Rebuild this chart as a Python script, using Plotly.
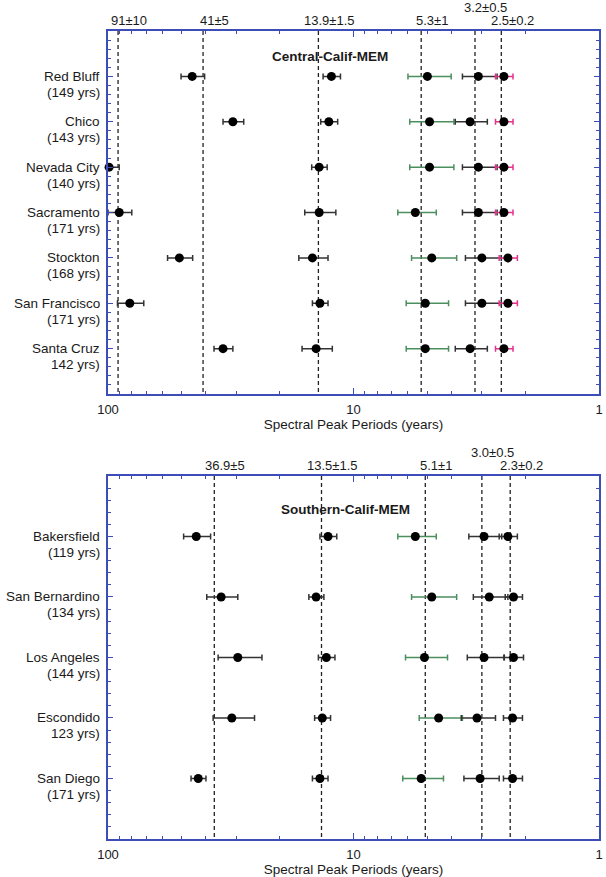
import numpy as np
import plotly.graph_objects as go

# ---- Central California stations -------------------------------------------
central_stations = ["Red Bluff", "Chico", "Nevada City", "Sacramento",
                    "Stockton", "San Francisco", "Santa Cruz"]
central_years = ["(149 yrs)", "(143 yrs)", "(140 yrs)", "(171 yrs)",
                 "(168 yrs)", "(171 yrs)", "142 yrs)"]

# spectral peak periods (years) and their errors, one list per band
c_p1 = [45.4, 31.0, 99.0, 90.0, 51.2, 81.5, 34.0]
c_e1 = [5.0, 3.0, 9.0, 10.0, 6.0, 10.0, 3.0]
c_p2 = [12.3, 12.6, 13.8, 13.8, 14.7, 13.7, 14.2]
c_e2 = [1.0, 1.0, 1.0, 2.0, 2.0, 1.0, 2.0]
c_p3 = [5.0, 4.9, 4.9, 5.6, 4.8, 5.1, 5.1]
c_e3 = [1.0, 1.0, 1.0, 1.0, 1.0, 1.0, 1.0]
c_p4 = [3.1, 3.35, 3.1, 3.1, 3.0, 3.0, 3.35]
c_e4 = [0.5, 0.5, 0.5, 0.5, 0.5, 0.5, 0.5]
c_p5 = [2.44, 2.44, 2.44, 2.44, 2.35, 2.35, 2.44]
c_e5 = [0.2, 0.2, 0.2, 0.2, 0.2, 0.2, 0.2]

central_bands = [91, 41, 13.9, 5.3, 3.2, 2.5]
central_band_labels = ["91±10", "41±5", "13.9±1.5", "5.3±1", "3.2±0.5", "2.5±0.2"]

# ---- Southern California stations ------------------------------------------
southern_stations = ["Bakersfield", "San Bernardino", "Los Angeles",
                     "Escondido", "San Diego"]
southern_years = ["(119 yrs)", "(134 yrs)", "(144 yrs)", "123 yrs)", "(171 yrs)"]

s_p1 = [43.7, 34.6, 29.6, 31.3, 42.9]
s_e1 = [5.5, 5.0, 6.0, 6.0, 3.0]
s_p2 = [12.7, 14.2, 12.9, 13.4, 13.7]
s_e2 = [1.0, 1.0, 1.0, 1.0, 1.0]
s_p3 = [5.6, 4.8, 5.14, 4.5, 5.3]
s_e3 = [1.0, 1.0, 1.0, 0.9, 1.0]
s_p4 = [2.94, 2.8, 2.94, 3.14, 3.05]
s_e4 = [0.45, 0.45, 0.5, 0.5, 0.5]
s_p5 = [2.35, 2.23, 2.23, 2.25, 2.25]
s_e5 = [0.2, 0.18, 0.2, 0.2, 0.2]

southern_bands = [36.9, 13.5, 5.1, 3.0, 2.3]
southern_band_labels = ["36.9±5", "13.5±1.5", "5.1±1", "3.0±0.5", "2.3±0.2"]

x_tick_vals = [100, 10, 1]
x_tick_text = ["100", "10", "1"]

# ---- styling ----------------------------------------------------------------
FONT = "Liberation Sans, Arial, Helvetica, sans-serif"
TEXT = "#1a1a1a"
AXIS_BLUE = "#3d4db8"
BAR_DARK = "#333333"
BAR_GREEN = "#4b8f5e"
BAR_PINK = "#e6318d"
X_MAX = 100.0

fig = go.Figure()


def add_panel(xa, ya, stations, years, peaks, errs, colors, bands, labels, raised):
    n = len(stations)
    rows = list(range(1, n + 1))
    yref = ya
    # dashed reference periods
    for v in bands:
        fig.add_trace(go.Scatter(
            x=[v, v], y=[0, n + 1], mode="lines",
            line=dict(color="#222222", width=1.3, dash="4px,3px"),
            xaxis=xa, yaxis=ya, hoverinfo="skip", showlegend=False))
    # peaks with horizontal error bars
    for p, e, c in zip(peaks, errs, colors):
        plus = [min(ei, X_MAX - pi) for pi, ei in zip(p, e)]
        fig.add_trace(go.Scatter(
            x=p, y=rows, mode="markers",
            marker=dict(color="black", size=9),
            error_x=dict(type="data", symmetric=False, array=plus, arrayminus=e,
                         color=c, thickness=1.5, width=3),
            cliponaxis=False, xaxis=xa, yaxis=ya, showlegend=False))
    # band labels above the frame
    for v, lab in zip(bands, labels):
        fig.add_annotation(
            x=np.log10(v), xref=xa, y=1, yref=f"{yref} domain",
            text=lab, showarrow=False, xanchor="center", yanchor="bottom",
            xshift=11, yshift=14 if lab in raised else 1,
            font=dict(family=FONT, size=13, color=TEXT))
    # station labels
    for r, name, yrs in zip(rows, stations, years):
        fig.add_annotation(x=0, xref="paper", y=r, yref=yref, text=name,
                           showarrow=False, xanchor="right", yanchor="middle",
                           xshift=-6, font=dict(family=FONT, size=13.5, color=TEXT))
        fig.add_annotation(x=0, xref="paper", y=r, yref=yref, text=yrs,
                           showarrow=False, xanchor="right", yanchor="middle",
                           xshift=-6, yshift=-16,
                           font=dict(family=FONT, size=13.5, color=TEXT))


add_panel("x", "y", central_stations, central_years,
          [c_p1, c_p2, c_p3, c_p4, c_p5], [c_e1, c_e2, c_e3, c_e4, c_e5],
          [BAR_DARK, BAR_DARK, BAR_GREEN, BAR_DARK, BAR_PINK],
          central_bands, central_band_labels, {"3.2±0.5"})
add_panel("x2", "y2", southern_stations, southern_years,
          [s_p1, s_p2, s_p3, s_p4, s_p5], [s_e1, s_e2, s_e3, s_e4, s_e5],
          [BAR_DARK, BAR_DARK, BAR_GREEN, BAR_DARK, BAR_DARK],
          southern_bands, southern_band_labels, {"3.0±0.5"})

fig.add_annotation(x=0.4525, xref="x domain", y=0.956, yref="y domain",
                   text="<b>Central-Calif-MEM</b>", showarrow=False,
                   font=dict(family=FONT, size=13.5, color=TEXT))
fig.add_annotation(x=0.483, xref="x2 domain", y=0.934, yref="y2 domain",
                   text="<b>Southern-Calif-MEM</b>", showarrow=False,
                   font=dict(family=FONT, size=13.5, color=TEXT))

minor_x = [2, 3, 4, 5, 6, 7, 8, 9, 20, 30, 40, 50, 60, 70, 80, 90]


def x_axis(anchor):
    return dict(
        type="log", range=[2, 0], autorange=False, anchor=anchor, domain=[0, 1],
        tickvals=x_tick_vals, ticktext=x_tick_text,
        ticks="inside", ticklen=6, tickwidth=1, tickcolor=AXIS_BLUE,
        minor=dict(tickvals=minor_x, ticks="inside", ticklen=3.5,
                   tickwidth=1, tickcolor=AXIS_BLUE, showgrid=False),
        showline=True, linecolor=AXIS_BLUE, linewidth=1.5, mirror="allticks",
        showgrid=False, zeroline=False, ticklabelstandoff=3,
        tickfont=dict(family=FONT, size=13, color=TEXT),
        title=dict(text="Spectral Peak Periods (years)", standoff=2,
                   font=dict(family=FONT, size=13.5, color=TEXT)))


def y_axis(anchor, n, domain):
    return dict(
        range=[n + 1, 0], autorange=False, anchor=anchor, domain=domain,
        tickvals=list(range(1, n + 1)), showticklabels=False,
        ticks="inside", ticklen=5, tickwidth=1, tickcolor=AXIS_BLUE,
        minor=dict(tickvals=[round(v, 1) for v in np.arange(0, n + 1.01, 0.2)],
                   ticks="inside", ticklen=3, tickwidth=1, tickcolor=AXIS_BLUE,
                   showgrid=False),
        showline=True, linecolor=AXIS_BLUE, linewidth=1.5, mirror="allticks",
        showgrid=False, zeroline=False)


fig.update_layout(
    width=606, height=877,
    margin=dict(l=108, r=3, t=31, b=38),
    paper_bgcolor="white", plot_bgcolor="white",
    showlegend=False,
    xaxis=x_axis("y"),
    yaxis=y_axis("x", len(central_stations), [0.5507, 1.0]),
    xaxis2=x_axis("y2"),
    yaxis2=y_axis("x2", len(southern_stations), [0.0, 0.4493]),
)

fig.write_html("out.html")
